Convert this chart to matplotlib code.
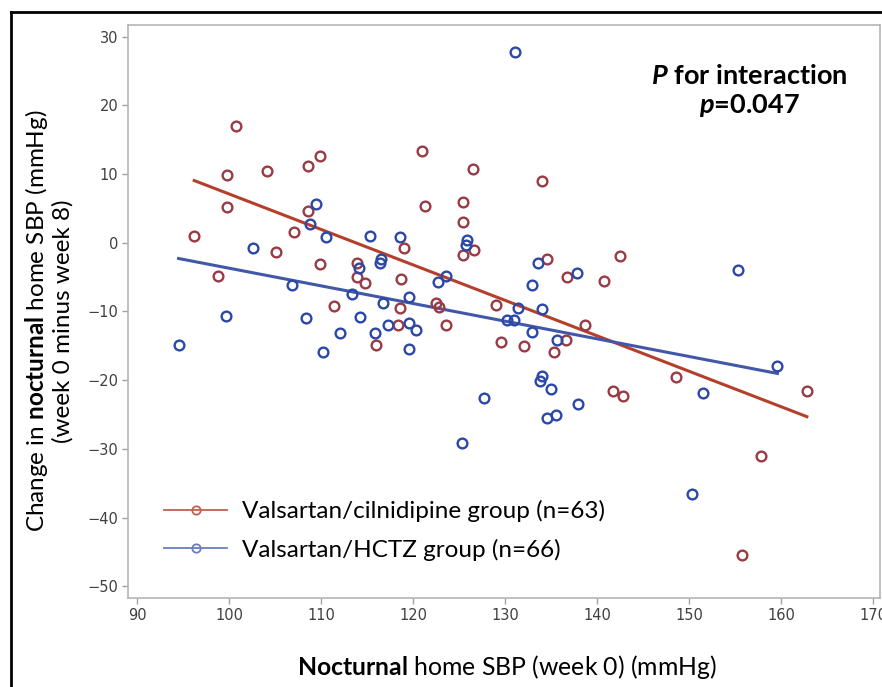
import matplotlib
matplotlib.use("Agg")
import matplotlib.pyplot as plt
from matplotlib.lines import Line2D
import numpy as np

# Valsartan/cilnidipine group: baseline nocturnal SBP vs change
red_x = [100.7, 99.8, 104.1, 108.6, 109.9, 99.8, 108.6, 96.2, 107.1, 105.1,
         109.9, 113.9, 113.9, 114.8, 98.8, 111.4, 116.0, 121.0, 121.3, 119.0,
         118.7, 118.6, 122.5, 122.8, 118.4, 123.6, 129.0, 129.5, 132.1, 136.6,
         135.3, 138.7, 141.7, 142.8, 148.6, 162.8, 157.8, 155.8, 142.5, 140.7,
         126.5, 134.0, 125.4, 125.4, 126.6, 125.4, 134.5, 136.7]
red_y = [17.0, 9.9, 10.5, 11.2, 12.7, 5.2, 4.6, 1.0, 1.5, -1.3,
         -3.1, -2.9, -5.0, -5.8, -4.9, -9.2, -14.9, 13.4, 5.3, -0.8,
         -5.2, -9.5, -8.8, -9.3, -12.0, -12.0, -9.1, -14.5, -15.0, -14.2,
         -15.9, -11.9, -21.6, -22.3, -19.5, -21.5, -31.1, -45.5, -1.9, -5.6,
         10.7, 9.0, 6.0, 3.0, -1.1, -1.8, -2.3, -5.0]

# Valsartan/HCTZ group
blue_x = [109.4, 108.8, 110.5, 115.3, 102.6, 114.1, 116.5, 116.4, 106.8, 113.3,
          99.6, 108.3, 114.2, 116.7, 94.5, 112.0, 110.2, 115.8, 118.6, 122.7,
          123.6, 119.5, 117.3, 119.5, 120.3, 119.6, 131.4, 134.0, 130.2, 131.0,
          132.9, 135.6, 127.7, 125.3, 134.0, 133.8, 135.0, 137.9, 134.5, 135.5,
          151.5, 159.6, 150.3, 155.3, 131.1, 125.8, 125.7, 133.6, 132.9, 137.8]
blue_y = [5.6, 2.8, 0.9, 1.0, -0.7, -3.7, -2.3, -2.9, -6.2, -7.5,
          -10.6, -11.0, -10.8, -8.8, -14.9, -13.2, -15.9, -13.2, 0.8, -5.7,
          -4.8, -7.9, -12.0, -11.7, -12.7, -15.5, -9.5, -9.6, -11.2, -11.2,
          -13.0, -14.1, -22.6, -29.2, -19.4, -20.1, -21.3, -23.4, -25.5, -25.1,
          -21.8, -17.9, -36.5, -3.9, 27.7, 0.4, -0.3, -2.9, -6.1, -4.4]

# fitted lines (intercept, slope)
red_fit = [58.7, -0.516]
blue_fit = [22.0, -0.257]

labels = ["Valsartan/cilnidipine group (n=63)", "Valsartan/HCTZ group (n=66)"]
xticks = [90, 100, 110, 120, 130, 140, 150, 160, 170]
yticks = [30, 20, 10, 0, -10, -20, -30, -40, -50]

plt.rcParams["mathtext.fontset"] = "custom"
plt.rcParams["mathtext.rm"] = "Lato"
plt.rcParams["mathtext.bf"] = "Lato:bold"
plt.rcParams["mathtext.it"] = "Lato:italic:bold"

RED_M = "#9A3A45"
BLUE_M = "#2C48A6"
RED_L = "#B4402C"
BLUE_L = "#4257A8"

fig = plt.figure(figsize=(8.82, 6.87), dpi=100)
ax = fig.add_axes([128 / 882, 1 - 598 / 687, 752 / 882, 573 / 687])

ax.plot(red_x, red_y, "o", ls="none", ms=7, mfc="none", mec=RED_M, mew=1.7, zorder=3)
ax.plot(blue_x, blue_y, "o", ls="none", ms=7, mfc="none", mec=BLUE_M, mew=1.7, zorder=3)

rx = np.array([min(red_x), max(red_x)])
bx = np.array([min(blue_x), max(blue_x)])
ax.plot(rx, red_fit[0] + red_fit[1] * rx, color=RED_L, lw=2.2, zorder=2)
ax.plot(bx, blue_fit[0] + blue_fit[1] * bx, color=BLUE_L, lw=2.2, zorder=2)

ax.set_xlim(89.0, 170.75)
ax.set_ylim(-51.7, 31.7)
ax.set_xticks(xticks)
ax.set_yticks(yticks)
ax.set_yticklabels([str(t).replace("-", "\u2212") for t in yticks])
for s in ax.spines.values():
    s.set_color("#B5B5B5")
    s.set_linewidth(1.2)
ax.tick_params(direction="out", length=4, width=1, color="#A0A0A0",
               labelcolor="#404040", labelsize=10.5, pad=3)
for lab in ax.get_xticklabels() + ax.get_yticklabels():
    lab.set_family(["Liberation Sans Narrow", "DejaVu Sans"])

ax.text(0.826, 0.911, r"$\mathit{P}$ for interaction", transform=ax.transAxes,
        ha="center", va="center", fontsize=19.5, fontweight="bold", family="Lato")
ax.text(0.826, 0.86, r"$p$=0.047", transform=ax.transAxes,
        ha="center", va="center", fontsize=19.5, fontweight="bold", family="Lato")

handles = [Line2D([], [], color="#C0604F", lw=1.3, marker="o", ms=6, mfc="none", mew=1.3),
           Line2D([], [], color="#6A7DC2", lw=1.3, marker="o", ms=6, mfc="none", mew=1.3)]
ax.legend(handles, labels, loc="upper left", bbox_to_anchor=(164 / 882, 1 - 500 / 687),
          bbox_transform=fig.transFigure, frameon=False,
          prop={"family": "Lato", "size": 17.5}, handlelength=2.6, handletextpad=0.6,
          labelspacing=0.68, borderpad=0, borderaxespad=0)

fig.text(48 / 882, 1 - 321 / 687,
         "Change in $\\mathbf{nocturnal}$ home SBP (mmHg)\n(week 0 minus week 8)",
         rotation=90, ha="center", va="center", multialignment="center",
         fontsize=17.5, family="Lato", linespacing=1.1)
fig.text(507 / 882, 1 - 667 / 687, "$\\mathbf{Nocturnal}$ home SBP (week 0) (mmHg)",
         ha="center", va="center", fontsize=17.8, family="Lato")

# black frame from the source slide
fig.add_artist(Line2D([11 / 882, 11 / 882], [0, 1 - 12 / 687], color="black", lw=2))
fig.add_artist(Line2D([11 / 882, 1], [1 - 12 / 687, 1 - 12 / 687], color="black", lw=2))

fig.savefig("out.png", dpi=100)
